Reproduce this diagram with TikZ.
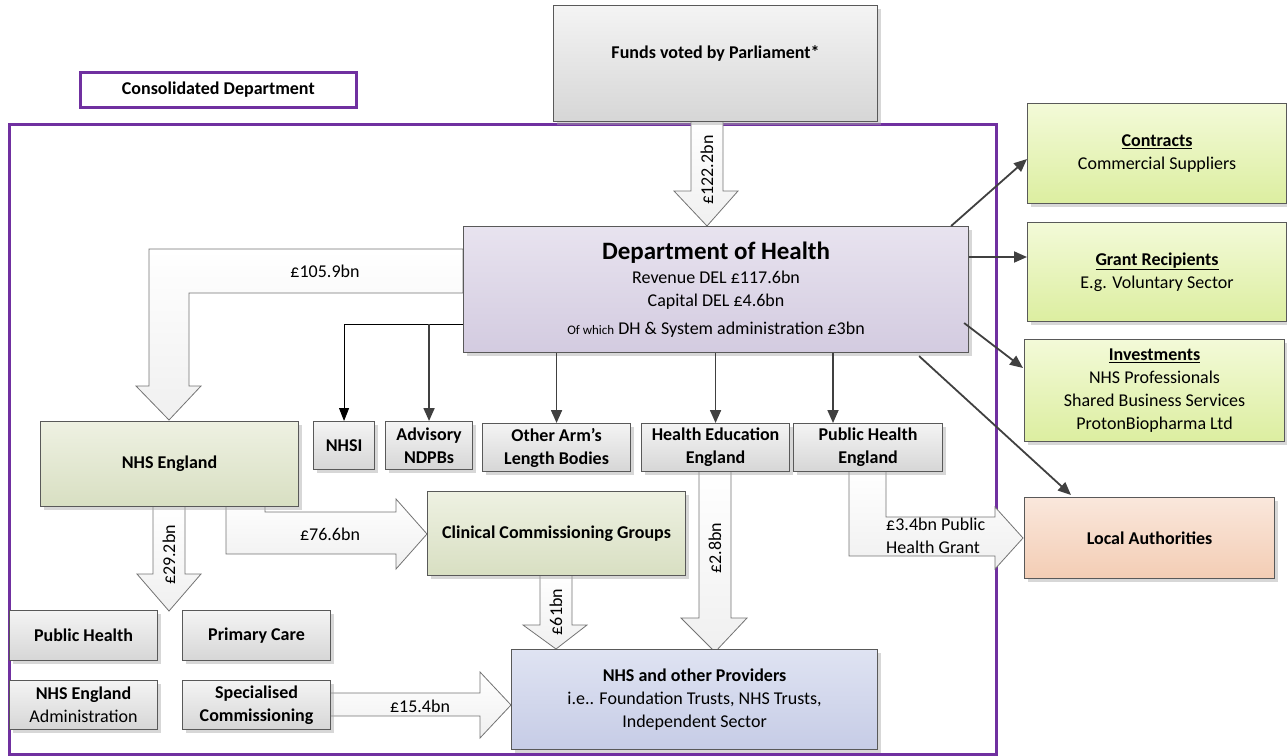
\documentclass[tikz,border=0pt]{standalone}
\usepackage{fontspec}
\setmainfont{Carlito}
\usetikzlibrary{arrows.meta,shadows,calc}
\definecolor{purp}{HTML}{7030A0}
\definecolor{grayT}{HTML}{F4F4F4}\definecolor{grayB}{HTML}{D6D6D6}
\definecolor{dohT}{HTML}{E8E3EF}\definecolor{dohB}{HTML}{D3CBE0}
\definecolor{grnT}{HTML}{EEF1E2}\definecolor{grnB}{HTML}{D8DFC2}
\definecolor{limT}{HTML}{F3FAD8}\definecolor{limB}{HTML}{DCEEA0}
\definecolor{pchT}{HTML}{FAE7DC}\definecolor{pchB}{HTML}{F3CDB4}
\definecolor{bluT}{HTML}{DFE3F2}\definecolor{bluB}{HTML}{C6CCE6}
\newcommand\mybox[7]{\node[#1,minimum width={#4-#2},minimum height={#5-#3}] (#6) at (#2,#3) {#7};}
\begin{document}
\begin{tikzpicture}[x=1pt,y=-1pt,
  every node/.style={font=\fontsize{18}{23}\selectfont},
  box/.style={draw=black!65, line width=1.1pt, inner sep=0pt, anchor=north west, align=center,
    drop shadow={shadow xshift=3pt, shadow yshift=-3pt, fill=black!35, opacity=.45}},
  graybox/.style={box, top color=grayT, bottom color=grayB},
  dohbox/.style={box, top color=dohT, bottom color=dohB},
  grnbox/.style={box, top color=grnT, bottom color=grnB},
  limbox/.style={box, top color=limT, bottom color=limB},
  pchbox/.style={box, top color=pchT, bottom color=pchB},
  blubox/.style={box, top color=bluT, bottom color=bluB},
  blk/.style={draw=black!55, line width=0.8pt, top color=white, bottom color=black!6},
  darr/.style={draw=black!75, line width=1.8pt, -{Triangle[length=13pt,width=11pt]}},
  thinarr/.style={draw=black, line width=0.9pt, -{Triangle[length=13pt,width=10pt]}},
  rot/.style={rotate=90}
]
\useasboundingbox (0,0) rectangle (1287,755);
% consolidated department frame and label
\node[draw=purp, line width=2.6pt, inner sep=0pt, anchor=north west, minimum width=987, minimum height=630] (frame) at (8,123) {};
\node[draw=purp, line width=2.6pt, fill=white, inner sep=0pt, anchor=north west, minimum width=276, minimum height=35, font=\fontsize{18}{23}\selectfont\bfseries] (cons) at (79,71) {Consolidated Department};

% block arrows
\draw[blk] (463,249) -- (149,249) -- (149,386) -- (136,386) -- (169,420) -- (201,386) -- (189,386) -- (189,293) -- (463,293) -- cycle;
\node (l1) at (325,271) {£105.9bn};
\draw[blk] (691,121) -- (691,191) -- (674,191) -- (707,226) -- (738,191) -- (723,191) -- (723,121) -- cycle;
\node[rot] (l2) at (707,170) {£122.2bn};
\draw[blk] (153,506) -- (153,574) -- (137,574) -- (169,611) -- (201,574) -- (185,574) -- (185,506) -- cycle;
\node[rot] (l3) at (169,555) {£29.2bn};
\draw[blk] (226,506) -- (226,554) -- (396,554) -- (396,569) -- (427,534) -- (396,499) -- (396,512) -- (265,512) -- (265,506) -- cycle;
\node (l4) at (330,534) {£76.6bn};
\draw[blk] (540,575) -- (540,625) -- (523,625) -- (556,649) -- (587,625) -- (572,625) -- (572,575) -- cycle;
\node[rot] (l5) at (556,612) {£61bn};
\draw[blk] (699,471) -- (699,618) -- (681,618) -- (715,652) -- (747,618) -- (731,618) -- (731,471) -- cycle;
\node[rot] (l6) at (715,548) {£2.8bn};
\draw[blk] (849,471) -- (849,556) -- (995,556) -- (995,569) -- (1023,538) -- (995,507) -- (995,517) -- (886,517) -- (886,471) -- cycle;
\node[anchor=west, align=left, inner sep=0pt] (l7) at (886,536) {£3.4bn Public\\Health Grant};
\draw[blk] (330,693) -- (480,693) -- (480,672) -- (511,705) -- (480,738) -- (480,716) -- (330,716) -- cycle;
\node (l8) at (420,706) {£15.4bn};

% boxes
\mybox{graybox}{553}{5}{877}{121}{funds}{\raisebox{5pt}[0pt][0pt]{\bfseries Funds voted by Parliament*}}
\mybox{dohbox}{463}{226}{968}{352}{doh}{{\fontsize{25}{28}\selectfont\bfseries Department of Health}\\[1pt] Revenue DEL £117.6bn\\ Capital DEL £4.6bn\\[5pt] {\fontsize{13}{16}\selectfont Of which} DH \& System administration £3bn}
\mybox{limbox}{1027}{103}{1286}{203}{contr}{\textbf{\underline{Contracts}}\\Commercial Suppliers}
\mybox{limbox}{1027}{222}{1286}{321}{grant}{\textbf{\underline{Grant Recipients}}\\E.g. Voluntary Sector}
\mybox{limbox}{1024}{339}{1284}{441}{inv}{\textbf{\underline{Investments}}\\NHS Professionals\\Shared Business Services\\ProtonBiopharma Ltd}
\mybox{pchbox}{1024}{497}{1274}{578}{la}{\bfseries Local Authorities}
\mybox{grnbox}{40}{421}{298}{506}{nhse}{\bfseries NHS England}
\mybox{graybox}{313}{421}{374}{469}{nhsi}{\bfseries NHSI}
\mybox{graybox}{385}{421}{472}{469}{adv}{\bfseries Advisory\\\bfseries NDPBs}
\mybox{graybox}{482}{423}{630}{471}{oth}{\bfseries Other Arm’s\\\bfseries Length Bodies}
\mybox{graybox}{641}{423}{789}{471}{hee}{\bfseries Health Education\\\bfseries England}
\mybox{graybox}{793}{423}{942}{471}{phe}{\bfseries Public Health\\\bfseries England}
\mybox{grnbox}{427}{491}{685}{575}{ccg}{\bfseries Clinical Commissioning Groups}
\mybox{graybox}{9}{610}{157}{660}{ph}{\bfseries Public Health}
\mybox{graybox}{182}{610}{330}{660}{pc}{\bfseries Primary Care}
\mybox{graybox}{9}{680}{157}{729}{nea}{\textbf{NHS England}\\Administration}
\mybox{graybox}{182}{680}{330}{729}{sc}{\bfseries Specialised\\\bfseries Commissioning}
\mybox{blubox}{511}{649}{877}{749}{prov}{\textbf{NHS and other Providers}\\i.e.. Foundation Trusts, NHS Trusts,\\Independent Sector}

% thin connectors
\coordinate (jn) at (344,324);
\draw[thinarr] (doh.west |- jn) -| (nhsi.north);
\draw[darr] (adv.north |- jn) -- (adv.north);
\draw[darr] (oth.north |- doh.south) -- (oth.north);
\draw[darr] (hee.north |- doh.south) -- (hee.north);
\coordinate (pheT) at ($(phe.north west)+(40,0)$);
\draw[darr] (doh.south -| pheT) -- (pheT);
\draw[darr] ($(doh.north east)+(-18,0)$) -- ($(contr.north west)+(0,56)$);
\coordinate (gy) at ($(grant.north west)+(0,35)$);
\draw[darr] (doh.east |- gy) -- (gy);
\draw[darr] ($(doh.north east)+(-5,97)$) -- ($(inv.north west)+(-1,29)$);
\draw[darr] ($(doh.south east)+(-50,3)$) -- ($(la.north west)+(47,-2)$);
\end{tikzpicture}
\end{document}
